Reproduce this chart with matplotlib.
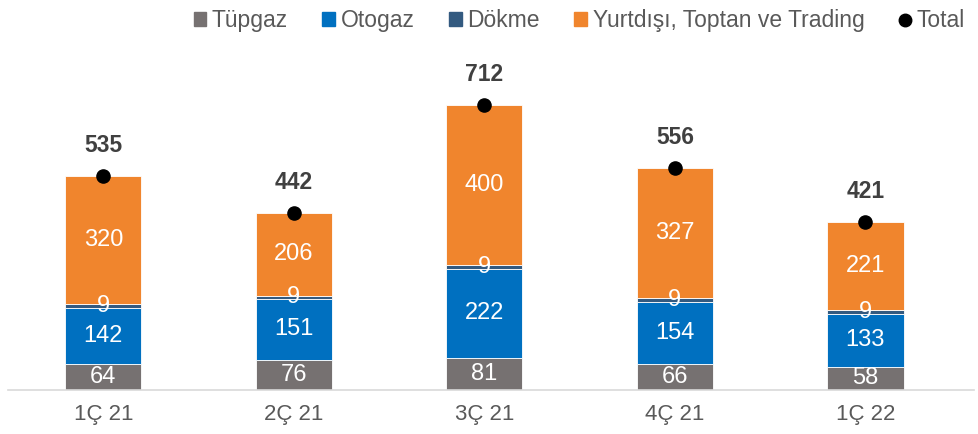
import matplotlib.pyplot as plt
import numpy as np
from matplotlib.lines import Line2D
from matplotlib.patches import Patch

plt.rcParams['font.family'] = ['Liberation Sans', 'DejaVu Sans']

quarters = ['1Ç 21', '2Ç 21', '3Ç 21', '4Ç 21', '1Ç 22']
tupgaz = [64, 76, 81, 66, 58]
otogaz = [142, 151, 222, 154, 133]
dokme = [9, 9, 9, 9, 9]
yurtdisi = [320, 206, 400, 327, 221]
totals = [535, 442, 712, 556, 421]

series = [('Tüpgaz', tupgaz, '#767171'),
          ('Otogaz', otogaz, '#0070C0'),
          ('Dökme', dokme, '#335A80'),
          ('Yurtdışı, Toptan ve Trading', yurtdisi, '#F0852D')]

fig = plt.figure(figsize=(9.79, 4.34), dpi=100)
ax = fig.add_axes([8 / 979, 44 / 434, 966 / 979, 350 / 434])

x = np.arange(len(quarters))
bottom = np.zeros(len(quarters))
for name, vals, col in series:
    vals = np.array(vals)
    ax.bar(x, vals, 0.4, bottom=bottom, color=col, edgecolor='white', linewidth=0.6)
    for xi, b, v in zip(x, bottom, vals):
        ax.text(xi, b + v / 2, str(v), ha='center', va='center',
                color='white', fontsize=17)
    bottom += vals

ax.scatter(x, totals, s=90, color='black', zorder=5)
for xi, t in zip(x, totals):
    ax.text(xi, t + 60, str(t), ha='center', va='baseline', fontsize=16.5,
            fontweight='bold', color='#404040')

ax.set_xlim(-0.5, 4.57)
ax.set_ylim(0, 875)
ax.set_xticks(x)
ax.set_xticklabels(quarters, fontsize=16, color='#595959')
ax.tick_params(axis='x', length=0, pad=10)
ax.set_yticks([])
for s in ['top', 'left', 'right']:
    ax.spines[s].set_visible(False)
ax.spines['bottom'].set_color('#D9D9D9')
ax.spines['bottom'].set_linewidth(1.2)

handles = [Patch(color=c) for _, _, c in series]
handles.append(Line2D([], [], marker='o', color='black', linestyle='none', markersize=9))
labels = [n for n, _, _ in series] + ['Total']
fig.legend(handles, labels, loc='upper right', bbox_to_anchor=(1.0, 1.01), ncol=5,
           frameon=False, fontsize=16.5, labelcolor='#595959',
           handlelength=0.55, handleheight=0.55, handletextpad=0.25, columnspacing=1.5,
           borderaxespad=0.2)

fig.savefig('out.png', dpi=100)
